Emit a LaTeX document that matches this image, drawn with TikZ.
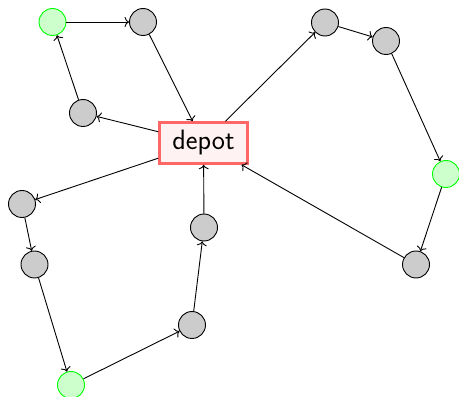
\documentclass[tikz,border=0pt]{standalone}
\usetikzlibrary{arrows.meta}
\begin{document}
\begin{tikzpicture}[x=1pt,y=1pt,
  stop/.style={circle,draw=black,fill=black!20,line width=0.9pt,minimum size=27pt,inner sep=0pt},
  pickup/.style={circle,draw=green,fill=green!20,line width=0.9pt,minimum size=27pt,inner sep=0pt},
  hub/.style={rectangle,draw=red!60,fill=red!5,line width=2.5pt,minimum width=88pt,minimum height=41pt,inner sep=0pt,font=\fontsize{28}{31}\selectfont\sffamily},
  route/.style={-{To[length=4.5pt,width=10pt]},line width=0.9pt}]
\useasboundingbox (0,0) rectangle (459,397);
\node[hub] (depot) at (203.5,254) {depot};
\node[pickup] (g1) at (52.5,375) {};
\node[stop] (a) at (143,375) {};
\node[stop] (b) at (83,284) {};
\node[stop] (c) at (325,374.5) {};
\node[stop] (d) at (386,356) {};
\node[pickup] (g2) at (446,223) {};
\node[stop] (e) at (416,132.5) {};
\node[stop] (f) at (22,193) {};
\node[stop] (h) at (34.5,132.5) {};
\node[pickup] (g3) at (71,12) {};
\node[stop] (i) at (192,72) {};
\node[stop] (j) at (204,169.5) {};
\draw[route] (depot) -- (b);
\draw[route] (b) -- (g1);
\draw[route] (g1) -- (a);
\draw[route] (a) -- (depot);
\draw[route] (depot) -- (c);
\draw[route] (c) -- (d);
\draw[route] (d) -- (g2);
\draw[route] (g2) -- (e);
\draw[route] (e) -- (depot);
\draw[route] (depot) -- (f);
\draw[route] (f) -- (h);
\draw[route] (h) -- (g3);
\draw[route] (g3) -- (i);
\draw[route] (i) -- (j);
\draw[route] (j) -- (depot);
\end{tikzpicture}
\end{document}
